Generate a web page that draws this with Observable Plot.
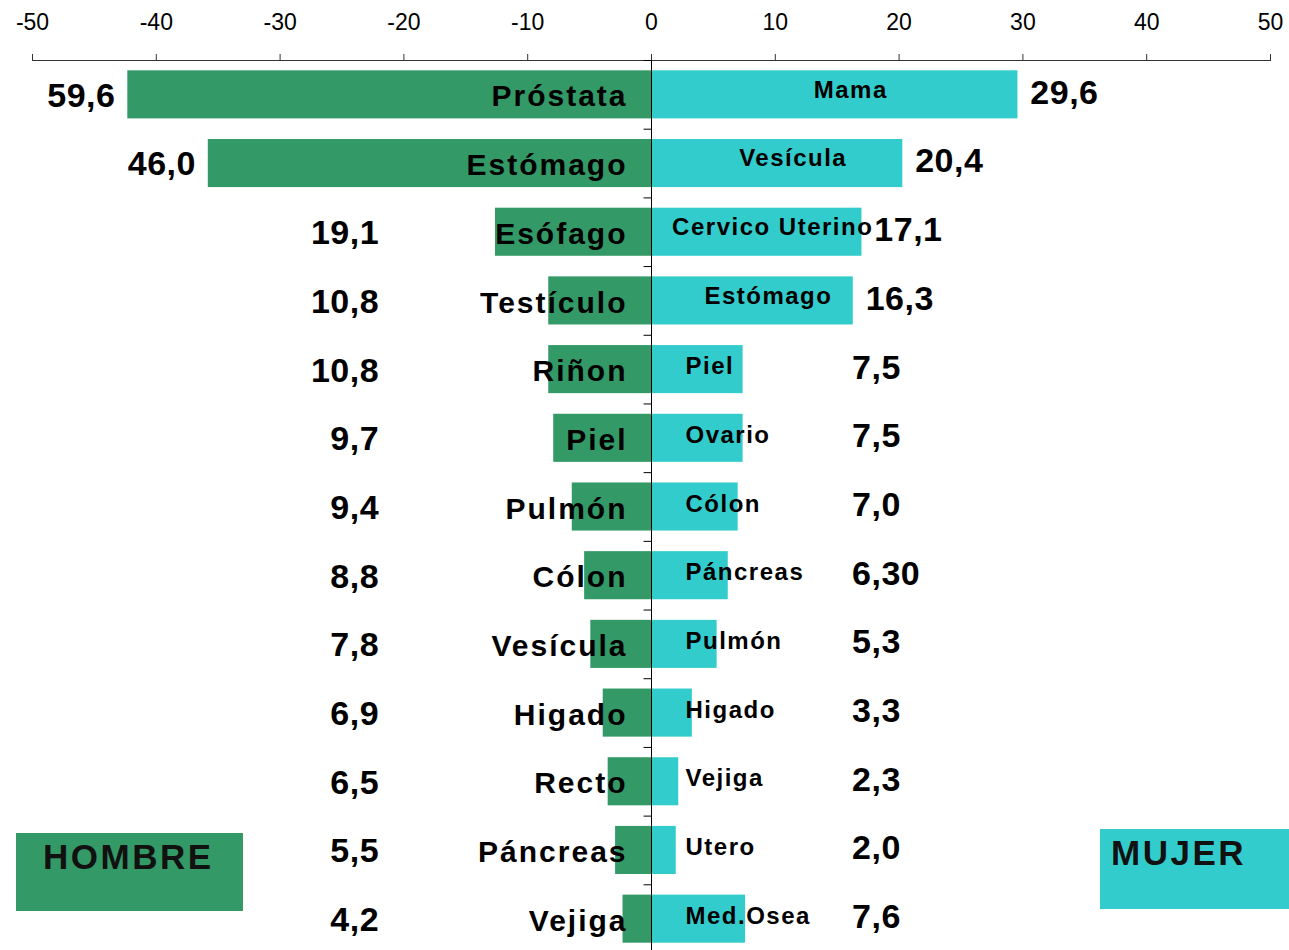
<!DOCTYPE html>
<html>
<head>
<meta charset="utf-8">
<script src="https://cdn.jsdelivr.net/npm/d3@7"></script>
<script src="https://cdn.jsdelivr.net/npm/@observablehq/plot@0.6"></script>
<style>
  html, body { margin: 0; padding: 0; background: #fff; overflow: hidden; }
  #wrap { position: relative; width: 1289px; height: 950px; font-family: "Liberation Sans", Arial, sans-serif; }
  g[font-size="30"] { letter-spacing: 2px; }
  g[font-size="24"] { letter-spacing: 1.5px; }
  g[font-size="34"] { letter-spacing: 0.5px; }
  .legend { position: absolute; font-weight: bold; font-size: 35px; letter-spacing: 2.5px; color: #111; box-sizing: border-box; }
</style>
</head>
<body>
<div id="wrap"></div>
<script>
// Data
const ticks = [-50, -40, -30, -20, -10, 0, 10, 20, 30, 40, 50];
const menCats = ["Próstata","Estómago","Esófago","Testículo","Riñon","Piel","Pulmón","Cólon","Vesícula","Higado","Recto","Páncreas","Vejiga"];
const menLabels = ["59,6","46,0","19,1","10,8","10,8","9,7","9,4","8,8","7,8","6,9","6,5","5,5","4,2"];
const menBars = [42.3, 35.8, 12.6, 8.3, 8.3, 7.9, 6.4, 5.4, 4.9, 3.9, 3.5, 2.9, 2.3];
const womenCats = ["Mama","Vesícula","Cervico Uterino","Estómago","Piel","Ovario","Cólon","Páncreas","Pulmón","Higado","Vejiga","Utero","Med.Osea"];
const womenLabels = ["29,6","20,4","17,1","16,3","7,5","7,5","7,0","6,30","5,3","3,3","2,3","2,0","7,6"];
const womenBars = [29.6, 20.3, 17.0, 16.3, 7.4, 7.4, 7.0, 6.2, 5.3, 3.3, 2.2, 2.0, 7.6];

const GREEN = "#339966";
const CYAN = "#33CCCC";

const men = menCats.map((c, i) => ({rank: i, cat: c, label: menLabels[i], bar: menBars[i]}));
const women = womenCats.map((c, i) => ({rank: i, cat: c, label: womenLabels[i], bar: womenBars[i]}));
const half = 0.35;
const boundaries = d3.range(-0.5, men.length, 1);

const chart = Plot.plot({
  width: 1289,
  height: 953,
  marginTop: 60,
  marginBottom: 0,
  marginLeft: 32,
  marginRight: 19,
  x: {domain: [-50, 50], axis: null},
  y: {domain: [-0.5, men.length - 0.5], reverse: true, axis: null},
  style: {fontFamily: "'Liberation Sans', Arial, sans-serif", background: "white", color: "#000", overflow: "visible"},
  marks: [
    Plot.rect(men, {x1: 0, x2: d => -d.bar, y1: d => d.rank - half, y2: d => d.rank + half, fill: GREEN}),
    Plot.rect(women, {x1: 0, x2: d => d.bar, y1: d => d.rank - half, y2: d => d.rank + half, fill: CYAN}),
    Plot.ruleY([-0.5], {stroke: "#333", strokeWidth: 1}),
    Plot.axisX(ticks, {anchor: "top", tickSize: 7, tickPadding: 24, fontSize: 23, tickFormat: d => String(d), stroke: "#333", fill: "#000"}),
    Plot.ruleX([0], {y1: -0.5, y2: men.length - 0.5, stroke: "#000", strokeWidth: 1}),
    Plot.ruleY(boundaries, {x1: -0.6, x2: 0, stroke: "#000", strokeWidth: 1}),
    // category labels
    Plot.text(men, {x: 0, y: "rank", text: "cat", textAnchor: "end", dx: -24, dy: 2, fontSize: 30, fontWeight: "bold", fill: "#000"}),
    Plot.text(women.filter(d => d.bar > 10), {x: d => d.bar / 2, y: "rank", text: "cat", textAnchor: "middle", dx: 16, dy: -5, fontSize: 24, fontWeight: "bold", fill: "#000"}),
    Plot.text(women.filter(d => d.bar <= 10), {x: 0, y: "rank", text: "cat", textAnchor: "start", dx: 34, dy: -3, fontSize: 24, fontWeight: "bold", fill: "#000"}),
    // value labels
    Plot.text(men, {x: d => Math.min(-d.bar - 1, -22), y: "rank", text: "label", textAnchor: "end", dy: 1, fontSize: 34, fontWeight: "bold", fill: "#000"}),
    Plot.text(women, {x: d => Math.max(d.bar + 1, 16.2), y: "rank", text: "label", textAnchor: "start", dy: -2, fontSize: 34, fontWeight: "bold", fill: "#000"})
  ]
});

const wrap = document.getElementById("wrap");
wrap.appendChild(chart);

const lh = document.createElement("div");
lh.className = "legend";
lh.textContent = "HOMBRE";
Object.assign(lh.style, {left: "16px", top: "833px", width: "227px", height: "78px", background: GREEN, padding: "4px 0 0 27px"});
wrap.appendChild(lh);

const lm = document.createElement("div");
lm.className = "legend";
lm.textContent = "MUJER";
Object.assign(lm.style, {left: "1100px", top: "829px", width: "189px", height: "80px", background: CYAN, padding: "4px 0 0 11px"});
wrap.appendChild(lm);
</script>
</body>
</html>
